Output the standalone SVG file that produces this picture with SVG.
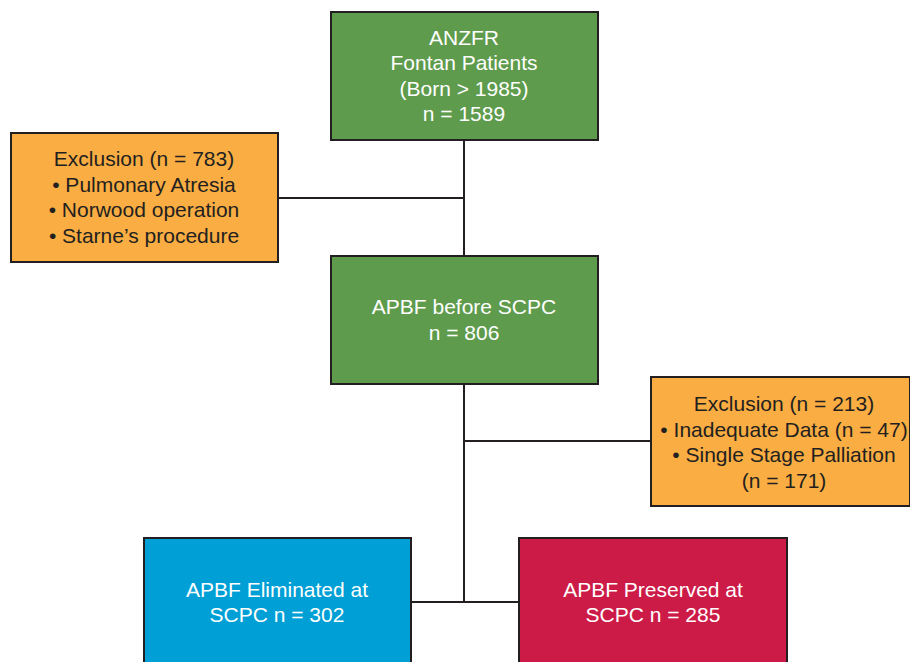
<svg xmlns="http://www.w3.org/2000/svg" width="910" height="662" viewBox="0 0 910 662">
<style>
.box{stroke:#231f20;stroke-width:2}
.green{fill:#5e9b4c}
.orange{fill:#f9ad42}
.blue{fill:#009fd5}
.red{fill:#cd1b47}
text{font-family:"Liberation Sans",Arial,sans-serif;font-size:21px;text-anchor:middle}
.w{fill:#ffffff}
.d{fill:#231f20}
.conn{stroke:#231f20;stroke-width:2;fill:none}
</style>
<rect width="910" height="662" fill="#ffffff"/>
<g id="connectors">
<line class="conn" x1="464" y1="140" x2="464" y2="256"/>
<line class="conn" x1="278" y1="198" x2="464" y2="198"/>
<line class="conn" x1="464" y1="384" x2="464" y2="602"/>
<line class="conn" x1="464" y1="441" x2="651" y2="441"/>
<line class="conn" x1="411" y1="602" x2="519" y2="602"/>
</g>
<g id="anzfr">
<rect class="box green" x="331" y="12" width="267" height="128"/>
<text class="w" x="464" y="45">ANZFR</text>
<text class="w" x="464" y="70">Fontan Patients</text>
<text class="w" x="464" y="96">(Born &gt; 1985)</text>
<text class="w" x="464" y="121">n = 1589</text>
</g>
<g id="exclusion1">
<rect class="box orange" x="11" y="133" width="267" height="129"/>
<text class="d" x="144" y="166">Exclusion (n = 783)</text>
<text class="d" x="144" y="192">• Pulmonary Atresia</text>
<text class="d" x="144" y="217">• Norwood operation</text>
<text class="d" x="144" y="243">• Starne’s procedure</text>
</g>
<g id="apbf">
<rect class="box green" x="331" y="256" width="267" height="128"/>
<text class="w" x="464" y="314">APBF before SCPC</text>
<text class="w" x="464" y="340">n = 806</text>
</g>
<g id="exclusion2">
<rect class="box orange" x="651" y="377" width="259" height="129"/>
<text class="d" x="784" y="411">Exclusion (n = 213)</text>
<text class="d" x="784" y="437">• Inadequate Data (n = 47)</text>
<text class="d" x="784" y="462">• Single Stage Palliation</text>
<text class="d" x="784" y="488">(n = 171)</text>
</g>
<g id="eliminated">
<rect class="box blue" x="144" y="538" width="267" height="130"/>
<text class="w" x="277" y="597">APBF Eliminated at</text>
<text class="w" x="277" y="622">SCPC n = 302</text>
</g>
<g id="preserved">
<rect class="box red" x="519" y="538" width="268" height="130"/>
<text class="w" x="653" y="597">APBF Preserved at</text>
<text class="w" x="653" y="622">SCPC n = 285</text>
</g>
</svg>
